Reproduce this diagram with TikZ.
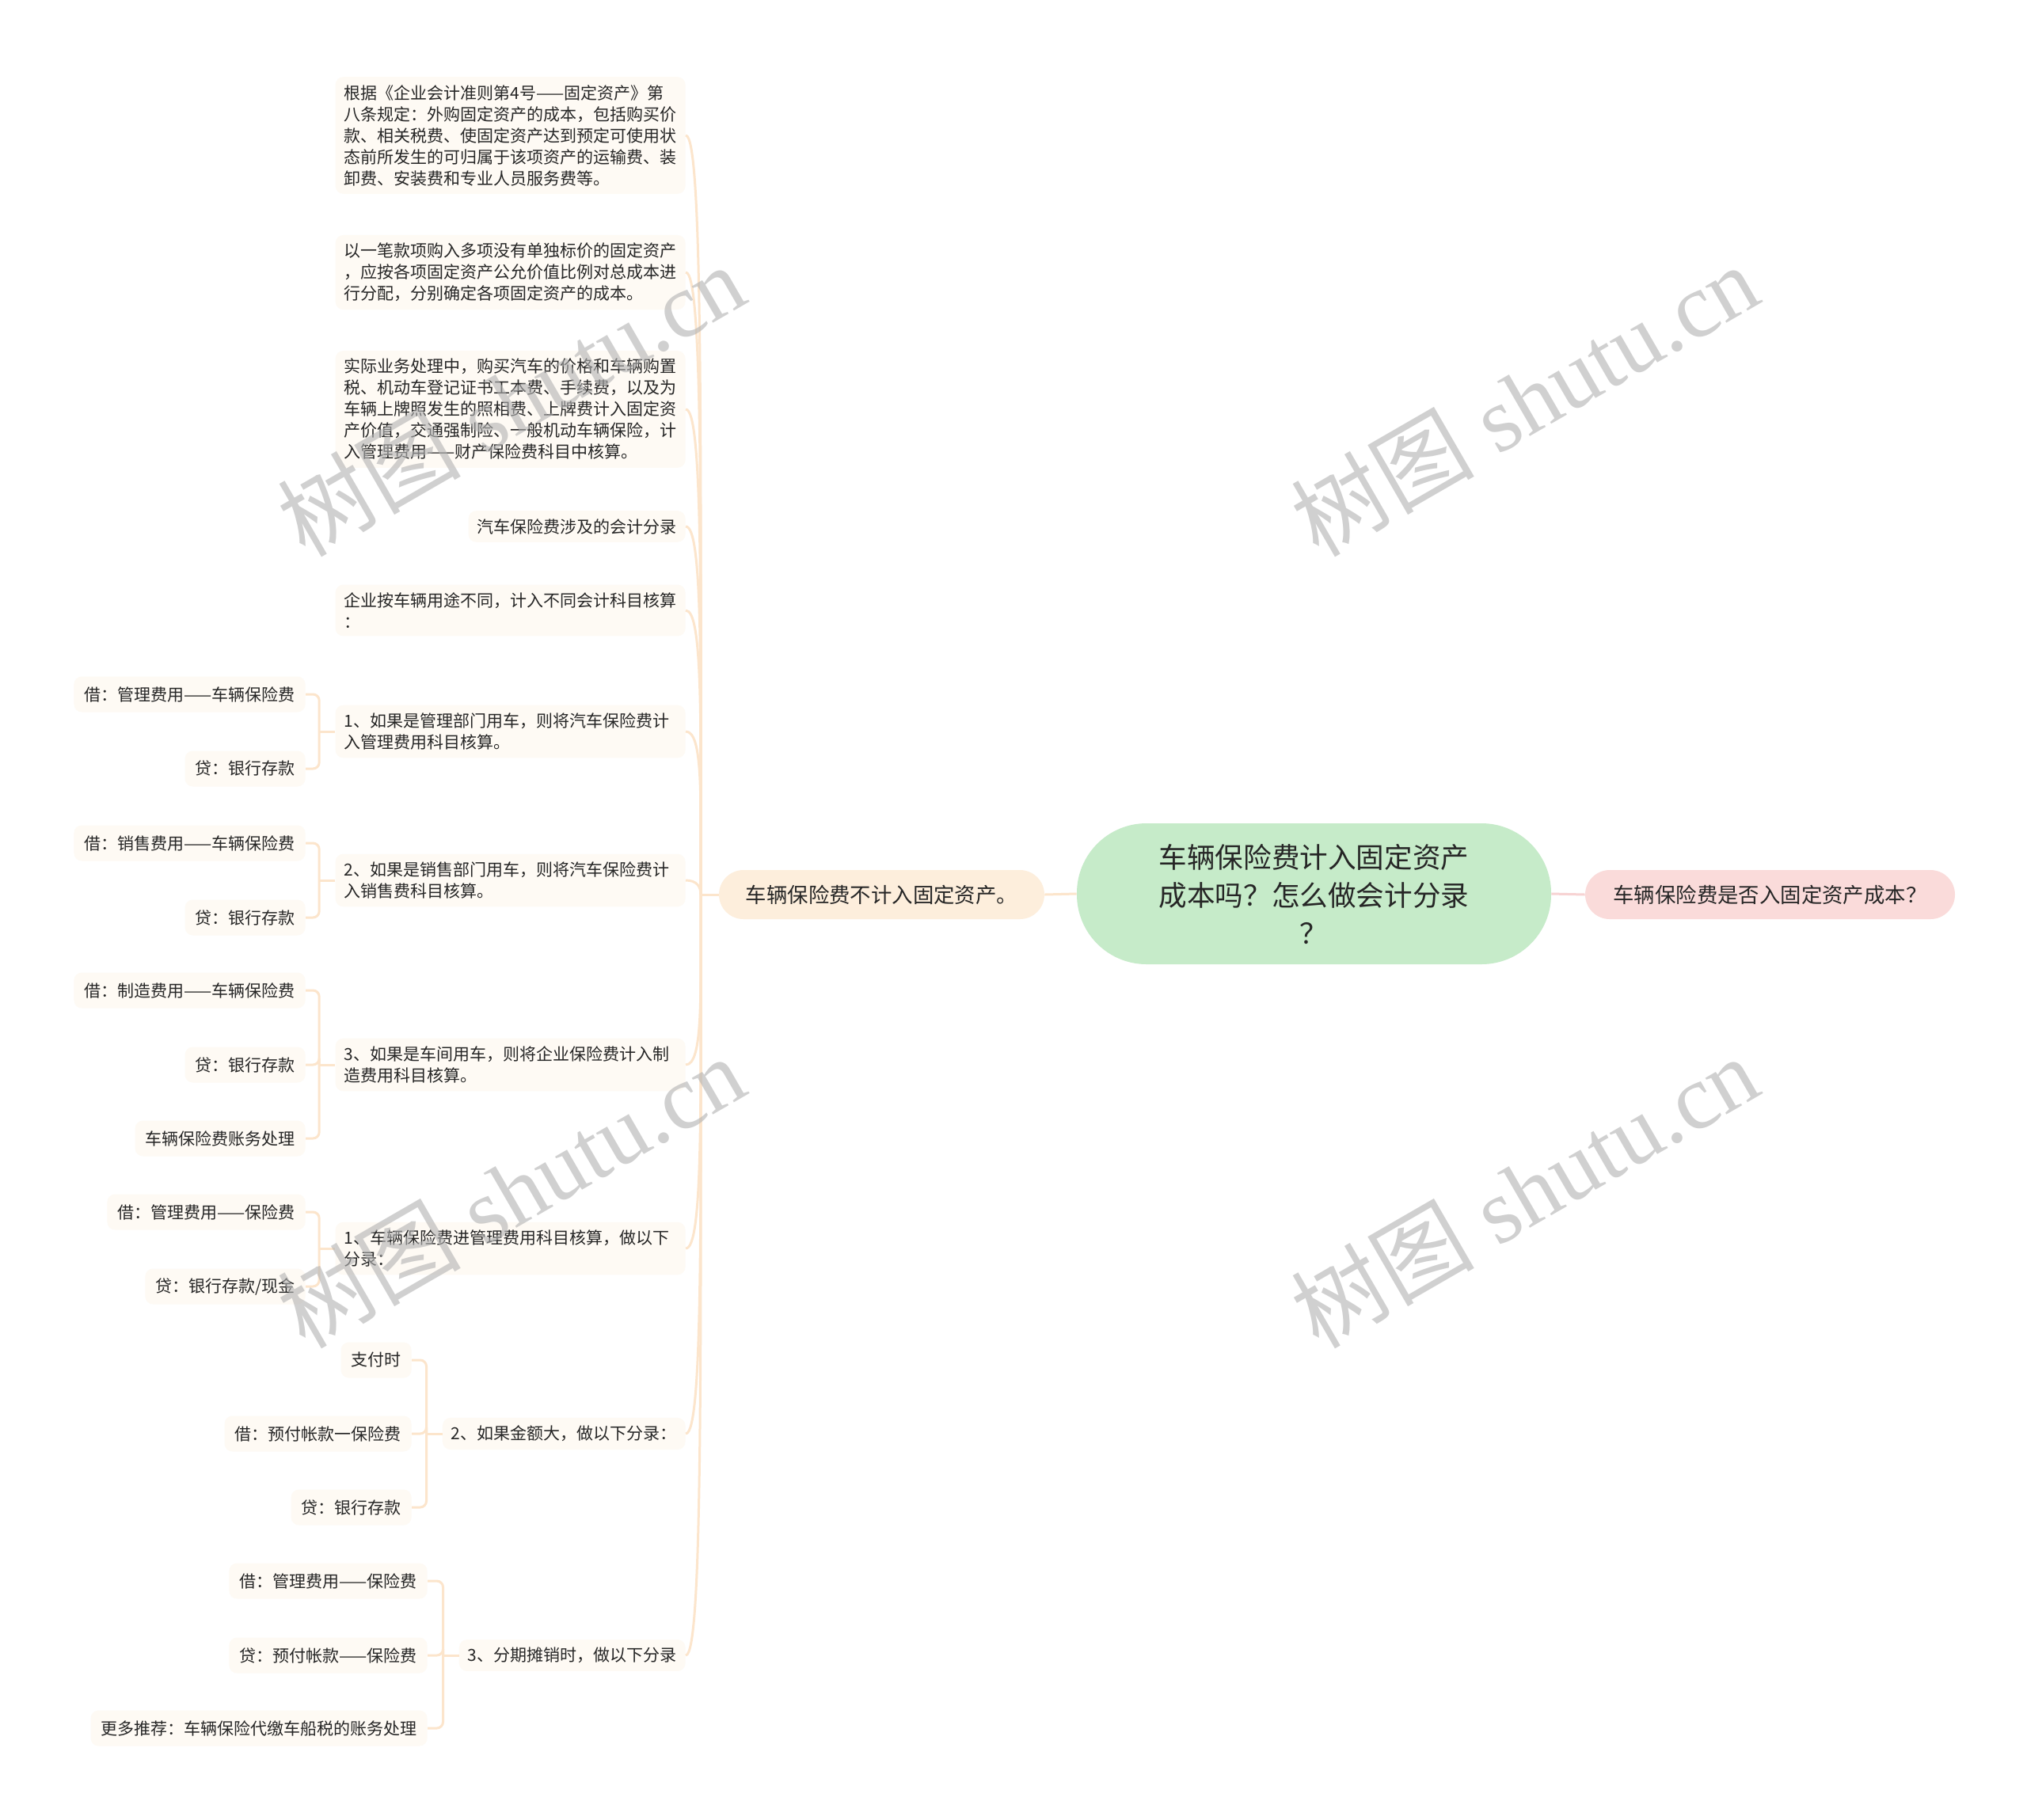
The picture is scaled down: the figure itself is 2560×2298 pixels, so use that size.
\documentclass[tikz,border=0pt]{standalone}
\usepackage{fontspec}
\newfontfamily\cjk{Noto Sans CJK SC}
\newfontfamily\wmserif{Liberation Serif}
\definecolor{cgreen}{HTML}{C6EBC9}
\definecolor{cpink}{HTML}{FADBDA}
\definecolor{cpinkline}{HTML}{F7D3D3}
\definecolor{corange}{HTML}{FDEEDC}
\definecolor{clineo}{HTML}{FCE5CC}
\definecolor{cleaf}{HTML}{FEFAF4}
\definecolor{ctext}{HTML}{262626}
\begin{document}
\begin{tikzpicture}[x=0.5pt,y=-0.5pt,
  rootnode/.style={fill=cgreen, rounded corners=44pt, minimum width=299.5pt, minimum height=89pt,
    align=center, inner sep=0pt, text=ctext, font=\cjk\fontsize{17.8}{24}\selectfont},
  lvone/.style={rounded corners=15.5pt, minimum height=31pt, inner sep=0pt, text=ctext,
    font=\cjk\fontsize{13.2}{16}\selectfont},
  subnode/.style={fill=cleaf, rounded corners=5pt, inner xsep=5.5pt, inner ysep=5pt, align=left,
    anchor=east, text=ctext, font=\cjk\fontsize{10.5}{13.5}\selectfont},
  wide/.style={subnode, text width=210pt},
  leafnode/.style={subnode, minimum height=22.5pt, inner xsep=6.5pt},
  conn/.style={draw=clineo, line width=1.5pt},
  brk/.style={draw=clineo, line width=1.5pt, rounded corners=4pt},
  wm/.style={text=gray!60, text opacity=0.6, rotate=30, font=\wmserif\fontsize{58}{58}\selectfont}
]
\useasboundingbox[fill=white] (0,0) rectangle (2560,2298);

% root and first level
\node[rootnode] (C) at (1659.5,1129) {车辆保险费计入固定资产\\成本吗？怎么做会计分录\\？};
\node[lvone, fill=cpink, minimum width=233.5pt] (R) at (2235.5,1130) {车辆保险费是否入固定资产成本？};
\node[lvone, fill=corange, minimum width=205.5pt] (L) at (1113.5,1130) {车辆保险费不计入固定资产。};
\coordinate (trunk) at (885,1130);

% second level
\node[wide] (n1) at (866,171) {根据《企业会计准则第4号——固定资产》第\\八条规定：外购固定资产的成本，包括购买价\\款、相关税费、使固定资产达到预定可使用状\\态前所发生的可归属于该项资产的运输费、装\\卸费、安装费和专业人员服务费等。};
\node[wide] (n2) at (866,344) {以一笔款项购入多项没有单独标价的固定资产\\，应按各项固定资产公允价值比例对总成本进\\行分配，分别确定各项固定资产的成本。};
\node[wide] (n3) at (866,517) {实际业务处理中，购买汽车的价格和车辆购置\\税、机动车登记证书工本费、手续费，以及为\\车辆上牌照发生的照相费、上牌费计入固定资\\产价值，交通强制险、一般机动车辆保险，计\\入管理费用——财产保险费科目中核算。};
\node[subnode] (n4) at (866,665) {汽车保险费涉及的会计分录};
\node[wide] (n5) at (866,771) {企业按车辆用途不同，计入不同会计科目核算\\：};
\node[wide] (n6) at (866,924) {1、如果是管理部门用车，则将汽车保险费计\\入管理费用科目核算。};
\node[wide] (n7) at (866,1112) {2、如果是销售部门用车，则将汽车保险费计\\入销售费科目核算。};
\node[wide] (n8) at (866,1345) {3、如果是车间用车，则将企业保险费计入制\\造费用科目核算。};
\node[wide] (n9) at (866,1577) {1、车辆保险费进管理费用科目核算，做以下\\分录：};
\node[subnode] (n10) at (866,1811) {2、如果金额大，做以下分录：};
\node[subnode] (n11) at (866,2091) {3、分期摊销时，做以下分录};

% leaves
\node[leafnode] (a1) at (386,877) {借：管理费用——车辆保险费};
\node[leafnode] (a2) at (386,971) {贷：银行存款};
\node[leafnode] (b1) at (386,1065) {借：销售费用——车辆保险费};
\node[leafnode] (b2) at (386,1159) {贷：银行存款};
\node[leafnode] (c1) at (386,1251) {借：制造费用——车辆保险费};
\node[leafnode] (c2) at (386,1345) {贷：银行存款};
\node[leafnode] (c3) at (386,1438) {车辆保险费账务处理};
\node[leafnode] (d1) at (386,1531) {借：管理费用——保险费};
\node[leafnode] (d2) at (386,1625) {贷：银行存款/现金};
\node[leafnode] (e1) at (520,1718) {支付时};
\node[leafnode] (e2) at (520,1811) {借：预付帐款一保险费};
\node[leafnode] (e3) at (520,1904) {贷：银行存款};
\node[leafnode] (f1) at (540,1997) {借：管理费用——保险费};
\node[leafnode] (f2) at (540,2091) {贷：预付帐款——保险费};
\node[leafnode] (f3) at (540,2183) {更多推荐：车辆保险代缴车船税的账务处理};

% connectors root
\draw[draw=cpinkline, line width=1.5pt] (C.east) -- (R.west);
\draw[conn] (C.west) -- (L.east);
\draw[conn] (L.west) -- (trunk);

% connectors to second level
\draw[conn] (n1.east) .. controls +(22,0) and +(0,-575) .. (trunk);
\draw[conn] (n2.east) .. controls +(22,0) and +(0,-472) .. (trunk);
\draw[conn] (n3.east) .. controls +(22,0) and +(0,-368) .. (trunk);
\draw[conn] (n4.east) .. controls +(22,0) and +(0,-279) .. (trunk);
\draw[conn] (n5.east) .. controls +(22,0) and +(0,-215) .. (trunk);
\draw[conn] (n6.east) .. controls +(22,0) and +(0,-124) .. (trunk);
\draw[conn] (n7.east) .. controls +(14,0) and +(0,-10) .. (trunk);
\draw[conn] (n8.east) .. controls +(22,0) and +(0,129) .. (trunk);
\draw[conn] (n9.east) .. controls +(22,0) and +(0,268) .. (trunk);
\draw[conn] (n10.east) .. controls +(22,0) and +(0,409) .. (trunk);
\draw[conn] (n11.east) .. controls +(22,0) and +(0,577) .. (trunk);

% bracket connectors to leaves
\foreach \p/\leaves in {n6/{a1,a2}, n7/{b1,b2}, n8/{c1,c2,c3}, n9/{d1,d2}, n10/{e1,e2,e3}, n11/{f1,f2,f3}}{
  \draw[conn] (\p.west) -- ++(-20,0);
  \foreach \q in \leaves {
    \draw[brk] (\p.west) ++(-20,0) |- (\q.east);
  }
}

% watermarks
\node[wm] (w1) at (645,505) {{\cjk 树图} shutu.cn};
\node[wm] (w2) at (1925,505) {{\cjk 树图} shutu.cn};
\node[wm] (w3) at (645,1505) {{\cjk 树图} shutu.cn};
\node[wm] (w4) at (1925,1505) {{\cjk 树图} shutu.cn};
\end{tikzpicture}
\end{document}
